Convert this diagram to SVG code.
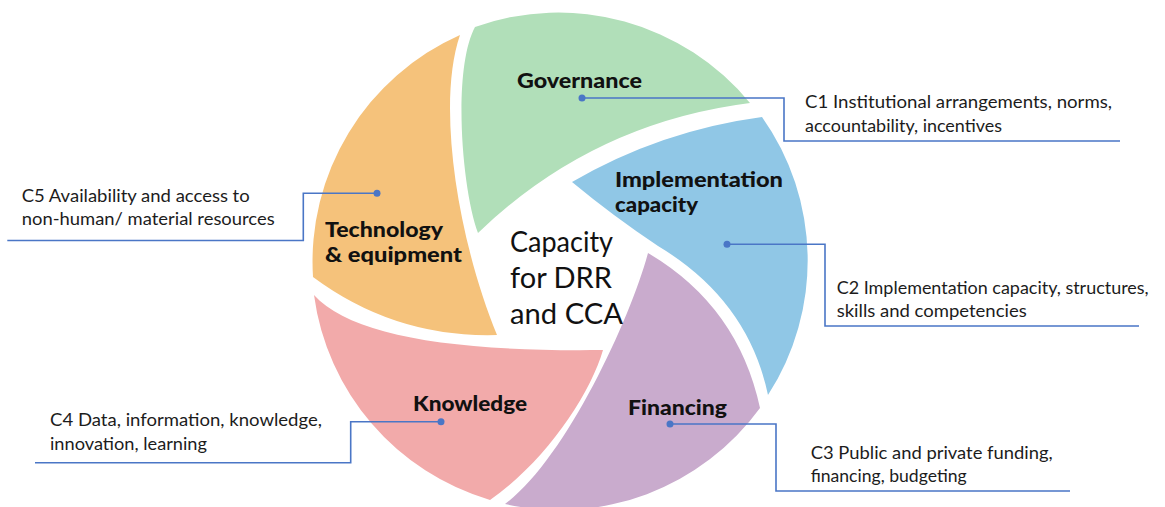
<svg xmlns="http://www.w3.org/2000/svg" width="1165" height="507" viewBox="0 0 1165 507">
  <style>
    .lbl { font-family: Lato, "Open Sans", "Liberation Sans", sans-serif; font-weight: 900; font-size: 20px; fill: #111; }
    .title { font-family: Lato, "Open Sans", "Liberation Sans", sans-serif; font-weight: 400; font-size: 29px; fill: #111; }
    .desc { font-family: Lato, "Open Sans", "Liberation Sans", sans-serif; font-weight: 400; font-size: 17px; fill: #1c1c1c; }
    .conn { fill: none; stroke: #4a76c6; stroke-width: 1.6; }
    .dot { fill: #4a76c6; }
  </style>
  <rect width="1165" height="507" fill="#ffffff"/>

  <!-- shutter blades: outer rim is a circle centred at (560,262), r = 248 -->
  <g id="governance">
    <path d="M 475,27 A 248 248 0 0 1 750,103 Q 592,123 478,233 C 462,190 452,70 475,27 Z" fill="#b1dfb9"/>
    <text class="lbl" x="517" y="88" textLength="125" lengthAdjust="spacingAndGlyphs">Governance</text>
  </g>
  <g id="implementation">
    <path d="M 762,117 A 248 248 0 0 1 768,395 Q 748,300 658,246 Q 613,216 572,182 Q 660.6,130.5 762,117 Z" fill="#90c7e6"/>
    <text class="lbl" x="615" y="187" textLength="168" lengthAdjust="spacingAndGlyphs">Implementation</text>
    <text class="lbl" x="615" y="212" textLength="83" lengthAdjust="spacingAndGlyphs">capacity</text>
  </g>
  <g id="financing">
    <path d="M 760,408 A 248 248 0 0 1 505,504 C 565,460 630,320 648,253 Q 738,306 760,408 Z" fill="#c9abcd"/>
    <text class="lbl" x="628" y="415" textLength="99" lengthAdjust="spacingAndGlyphs">Financing</text>
  </g>
  <g id="knowledge">
    <path d="M 490,500 A 248 248 0 0 1 314,295 C 350,335 450,352 603,350 C 590,395 545,462 490,500 Z" fill="#f2aaaa"/>
    <text class="lbl" x="413" y="411" textLength="114" lengthAdjust="spacingAndGlyphs">Knowledge</text>
  </g>
  <g id="technology">
    <path d="M 313,277 A 248 248 0 0 1 460,35 C 436,105 458,240 497,335 Q 395,338 313,277 Z" fill="#f5c27b"/>
    <text class="lbl" x="325" y="237" textLength="118" lengthAdjust="spacingAndGlyphs">Technology</text>
    <text class="lbl" x="325" y="262" textLength="137" lengthAdjust="spacingAndGlyphs">&amp; equipment</text>
  </g>

  <g id="centre">
    <text class="title" x="510" y="252" textLength="103" lengthAdjust="spacingAndGlyphs">Capacity</text>
    <text class="title" x="510" y="288" textLength="102" lengthAdjust="spacingAndGlyphs">for DRR</text>
    <text class="title" x="510" y="324" textLength="113" lengthAdjust="spacingAndGlyphs">and CCA</text>
  </g>

  <!-- elbow leaders from each blade to its description -->
  <g id="connectors">
    <polyline class="conn" points="582,98 784,98 784,141 1120,141"/>
    <polyline class="conn" points="727,244.3 825,244.3 825,326 1139,326"/>
    <polyline class="conn" points="670,424 776,424 776,491 1070,491"/>
    <polyline class="conn" points="441,421.7 350.7,421.7 350.7,462.7 35,462.7"/>
    <polyline class="conn" points="377,193.3 303.3,193.3 303.3,240.5 7.3,240.5"/>
    <circle class="dot" cx="582" cy="98" r="3.5"/>
    <circle class="dot" cx="727" cy="244.3" r="3.5"/>
    <circle class="dot" cx="670" cy="424" r="3.5"/>
    <circle class="dot" cx="441" cy="421.7" r="3.5"/>
    <circle class="dot" cx="377" cy="193.3" r="3.5"/>
  </g>

  <g id="c1">
    <text class="desc" x="805" y="108" textLength="307" lengthAdjust="spacingAndGlyphs">C1 Institutional arrangements, norms,</text>
    <text class="desc" x="805" y="131.5" textLength="197" lengthAdjust="spacingAndGlyphs">accountability, incentives</text>
  </g>
  <g id="c2">
    <text class="desc" x="836.7" y="294" textLength="312" lengthAdjust="spacingAndGlyphs">C2 Implementation capacity, structures,</text>
    <text class="desc" x="836.7" y="317" textLength="190" lengthAdjust="spacingAndGlyphs">skills and competencies</text>
  </g>
  <g id="c3">
    <text class="desc" x="810.7" y="459" textLength="242" lengthAdjust="spacingAndGlyphs">C3 Public and private funding,</text>
    <text class="desc" x="810.7" y="482" textLength="156" lengthAdjust="spacingAndGlyphs">financing, budgeting</text>
  </g>
  <g id="c4">
    <text class="desc" x="50" y="426" textLength="272" lengthAdjust="spacingAndGlyphs">C4 Data, information, knowledge,</text>
    <text class="desc" x="50" y="449.5" textLength="157" lengthAdjust="spacingAndGlyphs">innovation, learning</text>
  </g>
  <g id="c5">
    <text class="desc" x="21.7" y="201.5" textLength="228" lengthAdjust="spacingAndGlyphs">C5 Availability and access to</text>
    <text class="desc" x="21.7" y="225" textLength="253" lengthAdjust="spacingAndGlyphs">non-human/ material resources</text>
  </g>
</svg>
